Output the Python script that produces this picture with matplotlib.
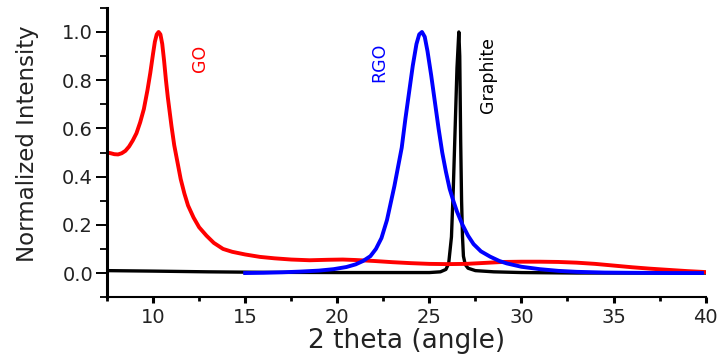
import matplotlib
matplotlib.use("Agg")
import matplotlib.pyplot as plt
from matplotlib.ticker import MultipleLocator

# GO (red)
go_x = [7.5, 7.7, 7.9, 8.1, 8.3, 8.5, 8.7, 8.9, 9.1, 9.3, 9.5, 9.7, 9.85, 10.0, 10.1, 10.2,
        10.3, 10.4, 10.5, 10.6, 10.7, 10.8, 10.9, 11.0, 11.15, 11.3, 11.5, 11.7, 11.9, 12.2,
        12.5, 12.9, 13.3, 13.8, 14.3, 15.0, 15.8, 16.6, 17.5, 18.5, 19.5, 20.3, 21.0, 22.0,
        23.0, 24.0, 25.0, 26.0, 27.0, 28.0, 29.0, 30.0, 31.0, 32.0, 33.0, 34.0, 35.0, 36.0,
        37.0, 38.0, 39.0, 40.0]
go_y = [0.50, 0.497, 0.493, 0.492, 0.497, 0.507, 0.525, 0.55, 0.58, 0.625, 0.68, 0.76, 0.83,
        0.91, 0.96, 0.99, 1.0, 0.99, 0.95, 0.88, 0.80, 0.73, 0.67, 0.61, 0.53, 0.47, 0.39,
        0.33, 0.28, 0.23, 0.19, 0.155, 0.125, 0.10, 0.088, 0.077, 0.067, 0.061, 0.056, 0.053,
        0.055, 0.056, 0.054, 0.05, 0.045, 0.041, 0.038, 0.037, 0.038, 0.042, 0.046, 0.047,
        0.047, 0.046, 0.043, 0.038, 0.031, 0.024, 0.018, 0.013, 0.008, 0.004]

# RGO (blue)
rgo_x = [15.0, 16.0, 17.0, 18.0, 19.0, 19.8, 20.5, 21.0, 21.4, 21.8, 22.1, 22.4, 22.7, 22.9,
         23.1, 23.3, 23.5, 23.7, 23.9, 24.1, 24.3, 24.45, 24.6, 24.75, 24.9, 25.1, 25.3, 25.5,
         25.7, 25.9, 26.1, 26.3, 26.5, 26.8, 27.1, 27.4, 27.8, 28.3, 28.8, 29.2, 30.0, 31.0,
         32.0, 33.0, 34.5, 36.0, 38.0, 39.8]
rgo_y = [0.0, 0.001, 0.003, 0.006, 0.010, 0.016, 0.025, 0.036, 0.05, 0.07, 0.10, 0.145, 0.22,
         0.29, 0.36, 0.44, 0.52, 0.64, 0.75, 0.86, 0.95, 0.99, 1.0, 0.98, 0.92, 0.82, 0.71,
         0.60, 0.50, 0.42, 0.35, 0.30, 0.255, 0.20, 0.155, 0.12, 0.09, 0.068, 0.05, 0.04,
         0.026, 0.016, 0.009, 0.005, 0.002, 0.001, 0.0, 0.0]

# Graphite (black)
gr_x = [7.5, 10.0, 13.0, 16.0, 20.0, 25.0, 25.6, 25.9, 26.05, 26.2, 26.3, 26.4, 26.5, 26.6,
        26.65, 26.7, 26.75, 26.8, 26.85, 26.95, 27.1, 27.5, 28.5, 30.0, 33.0, 40.0]
gr_y = [0.010, 0.008, 0.005, 0.003, 0.002, 0.002, 0.005, 0.015, 0.04, 0.15, 0.35, 0.6, 0.85,
        1.0, 0.9, 0.55, 0.3, 0.15, 0.07, 0.035, 0.02, 0.01, 0.005, 0.002, 0.0, 0.0]

font = "DejaVu Sans"

fig = plt.figure(figsize=(7.23, 3.58), dpi=100)
ax = fig.add_axes([0.148, 0.170, 0.828, 0.808])

ax.plot(gr_x, gr_y, color="black", lw=2.4)
ax.plot(go_x, go_y, color="#ff0000", lw=2.8)
ax.plot(rgo_x, rgo_y, color="#0000ff", lw=2.8)

ax.set_xlim(7.5, 40)
ax.set_ylim(-0.1, 1.1)
ax.xaxis.set_major_locator(MultipleLocator(5))
ax.xaxis.set_minor_locator(MultipleLocator(2.5))
ax.yaxis.set_major_locator(MultipleLocator(0.2))
ax.yaxis.set_minor_locator(MultipleLocator(0.1))
ax.yaxis.set_major_formatter(plt.FormatStrFormatter("%.1f"))

for s in ["top", "right"]:
    ax.spines[s].set_visible(False)
ax.spines["left"].set_linewidth(2.2)
ax.spines["bottom"].set_linewidth(1.5)

ax.tick_params(axis="x", which="major", direction="out", length=4.5, width=2.2,
               labelsize=14, pad=3)
ax.tick_params(axis="x", which="minor", direction="out", length=3, width=2.0)
ax.tick_params(axis="y", which="major", direction="out", length=8, width=1.4,
               labelsize=14, pad=2)
ax.tick_params(axis="y", which="minor", direction="out", length=5, width=1.3)
for lab in ax.get_xticklabels() + ax.get_yticklabels():
    lab.set_fontfamily(font)
    lab.set_color("#222222")

ax.set_xlabel("2 theta (angle)", fontsize=19, family=font, color="#222222", labelpad=1)
ax.set_ylabel("Normalized Intensity", fontsize=16.5, family=font, color="#222222")
ax.yaxis.set_label_coords(-0.113, 0.53)

ax.text(12.55, 0.89, "GO", color="#ff0000", rotation=90, fontsize=12.5,
        family=font, ha="center", va="center")
ax.text(22.3, 0.875, "RGO", color="#0000ff", rotation=90, fontsize=12.5,
        family=font, ha="center", va="center")
ax.text(28.2, 0.82, "Graphite", color="black", rotation=90, fontsize=12.5,
        family=font, ha="center", va="center")

fig.savefig("out.png", dpi=100)
